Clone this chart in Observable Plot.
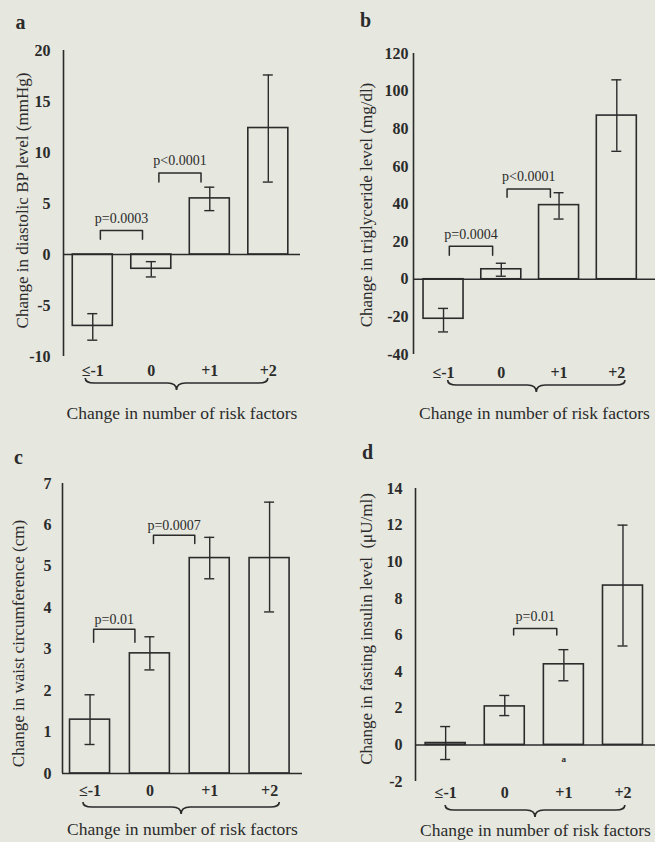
<!DOCTYPE html>
<html><head><meta charset="utf-8">
<script src="https://cdn.jsdelivr.net/npm/d3@7"></script>
<script src="https://cdn.jsdelivr.net/npm/@observablehq/plot@0.6"></script>
<style>
html,body{margin:0;padding:0;background:#e6e7df;}
#fig{position:relative;width:655px;height:842px;background:#e6e7df;overflow:hidden}
#fig svg{position:absolute;overflow:visible}
</style></head><body><div id="fig"></div>
<script>
// ---- data ----
const categories = ["≤-1", "0", "+1", "+2"];
const xTitle = "Change in number of risk factors";

// a: diastolic BP
const bpMean = [-7.0, -1.4, 5.5, 12.4];
const bpLow  = [-8.4, -2.2, 4.3, 7.1];
const bpHigh = [-5.8, -0.7, 6.6, 17.6];
const bpTicks = [-10, -5, 0, 5, 10, 15, 20];
const bpPairs = [[0, 1], [1, 2]];
const bpPTop = [2.35, 8.0];
const bpPLeg = [1.5, 7.1];
const bpPText = ["p=0.0003", "p<0.0001"];

// b: triglyceride
const tgMean = [-21, 5.3, 39.4, 87];
const tgLow  = [-28, 1.6, 32, 68];
const tgHigh = [-15.5, 8.5, 46, 106];
const tgTicks = [-40, -20, 0, 20, 40, 60, 80, 100, 120];
const tgPairs = [[0, 1], [1, 2]];
const tgPTop = [17.5, 48];
const tgPLeg = [12.8, 43.6];
const tgPText = ["p=0.0004", "p<0.0001"];

// c: waist circumference
const wcMean = [1.3, 2.9, 5.2, 5.2];
const wcLow  = [0.7, 2.5, 4.7, 3.9];
const wcHigh = [1.9, 3.3, 5.7, 6.55];
const wcTicks = [0, 1, 2, 3, 4, 5, 6, 7];
const wcPairs = [[0, 1], [1, 2]];
const wcPTop = [3.48, 5.75];
const wcPLeg = [3.17, 5.55];
const wcPText = ["p=0.01", "p=0.0007"];

// d: fasting insulin
const inMean = [0.1, 2.1, 4.4, 8.7];
const inLow  = [-0.8, 1.6, 3.5, 5.4];
const inHigh = [1.0, 2.7, 5.2, 12.0];
const inTicks = [-2, 0, 2, 4, 6, 8, 10, 12, 14];
const inPairs = [[1, 2]];
const inPTop = [6.35];
const inPLeg = [6.0];
const inPText = ["p=0.01"];
const inNote = [{i: 2, y: -0.8, text: "a"}];

// ---- drawing ----
const ink = "#2b2b2b";
const fig = document.getElementById("fig");

function braceMark(from, to, top) {
  return (index, scales, values, dims) => {
    const x0 = scales.x(from), x1 = scales.x(to);
    const y0 = dims.height - dims.marginBottom + top;
    const h1 = 5, h2 = 7, r = 9;
    const xm = (x0 + x1) / 2, y1 = y0 + h1, y2 = y1 + h2;
    const d = `M${x0},${y0} Q${x0},${y1} ${x0 + r},${y1} L${xm - r},${y1} Q${xm},${y1} ${xm},${y2} Q${xm},${y1} ${xm + r},${y1} L${x1 - r},${y1} Q${x1},${y1} ${x1},${y0}`;
    const p = document.createElementNS("http://www.w3.org/2000/svg", "path");
    p.setAttribute("d", d);
    p.setAttribute("fill", "none");
    p.setAttribute("stroke", ink);
    p.setAttribute("stroke-width", "1.7");
    return p;
  };
}

function panel(cfg) {
  const rows = categories.map((c, i) => ({i, c, mean: cfg.mean[i], low: cfg.low[i], high: cfg.high[i]}));
  const bpts = [];
  cfg.pairs.forEach(([a, b], k) => {
    const xa = a + cfg.inL, xb = b - cfg.inR;
    bpts.push({k, x: xa, y: cfg.pLeg[k]}, {k, x: xa, y: cfg.pTop[k]}, {k, x: xb, y: cfg.pTop[k]}, {k, x: xb, y: cfg.pLeg[k]});
  });
  const plabels = cfg.pairs.map(([a, b], k) => ({x: (a + cfg.inL + b - cfg.inR) / 2, y: cfg.pTop[k], text: cfg.pText[k]}));
  const marks = [
    Plot.ruleY([0], {stroke: ink, strokeWidth: 1.5}),
    Plot.ruleX([cfg.xDomain[0]], {stroke: ink, strokeWidth: 1.6}),
    Plot.rect(rows, {x1: "i", x2: "i", y1: 0, y2: "mean", insetLeft: -20, insetRight: -20, fill: "none", stroke: ink, strokeWidth: 1.6}),
    Plot.ruleX(rows, {x: "i", y1: "low", y2: "high", stroke: ink, strokeWidth: 1.4}),
    Plot.ruleY(rows, {y: "low", x1: "i", x2: "i", insetLeft: -5, insetRight: -5, stroke: ink, strokeWidth: 1.4}),
    Plot.ruleY(rows, {y: "high", x1: "i", x2: "i", insetLeft: -5, insetRight: -5, stroke: ink, strokeWidth: 1.4}),
    Plot.line(bpts, {x: "x", y: "y", z: "k", stroke: ink, strokeWidth: 1.5}),
    Plot.text(plabels, {x: "x", y: "y", text: "text", dy: cfg.pDy, fontSize: 14, fontWeight: "normal", fill: ink}),
    Plot.axisY(cfg.ticks, {tickSize: 0, tickPadding: cfg.yPad, tickFormat: d => String(d), fontSize: 16, fontWeight: "bold", fill: ink, label: null}),
    Plot.axisX([0, 1, 2, 3], {tickSize: 0, tickPadding: cfg.xPad, tickFormat: i => categories[i], fontSize: 16, fontWeight: "bold", fill: ink, label: null}),
    Plot.text([cfg.yLabel], {text: d => d, frameAnchor: "left", rotate: -90, dx: cfg.yLabDx, dy: cfg.yLabDy, fontSize: 17, fontWeight: "normal", fill: ink, textAnchor: "middle", lineAnchor: "middle"}),
    Plot.text([xTitle], {text: d => d, frameAnchor: "bottom", dy: cfg.titleDy, fontSize: 17.5, fontWeight: "normal", fill: ink, textAnchor: "middle", lineAnchor: "middle"}),
    Plot.text([cfg.letter], {text: d => d, frameAnchor: "top-left", dx: cfg.letDx, dy: cfg.letDy, fontSize: 20, fontWeight: "bold", fill: ink, textAnchor: "middle", lineAnchor: "middle"}),
    braceMark(cfg.braceFrom, cfg.braceTo, cfg.braceTop)
  ];
  if (cfg.notes) marks.push(Plot.text(cfg.notes, {x: "i", y: "y", text: "text", fontSize: 9, fontWeight: "bold", fill: ink}));
  const svg = Plot.plot({
    width: cfg.width, height: cfg.height,
    marginLeft: cfg.m[0], marginRight: cfg.m[1], marginTop: cfg.m[2], marginBottom: cfg.m[3],
    x: {type: "linear", domain: cfg.xDomain},
    y: {domain: cfg.yDomain},
    style: {fontFamily: '"Liberation Serif", "Times New Roman", serif', fontSize: "16px", color: ink, background: "transparent", overflow: "visible"},
    marks
  });
  svg.style.left = cfg.left + "px";
  svg.style.top = cfg.top + "px";
  fig.appendChild(svg);
}

panel({left: 0, top: 0, width: 327, height: 420, m: [63, 27, 50, 64],
  xDomain: [-0.5, 3.55], yDomain: [-10, 20], ticks: bpTicks,
  mean: bpMean, low: bpLow, high: bpHigh,
  pairs: bpPairs, pTop: bpPTop, pLeg: bpPLeg, pText: bpPText, inL: 0.13, inR: 0.15, pDy: -12,
  yPad: 13, xPad: 8, yLabel: "Change in diastolic BP level (mmHg)", yLabDx: -41, yLabDy: -3,
  titleDy: 57, letter: "a", letDx: -43, letDy: -28, braceFrom: -0.12, braceTo: 3.0, braceTop: 22});

panel({left: 327, top: 0, width: 328, height: 420, m: [86, 0, 53, 66],
  xDomain: [-0.52, 3.67], yDomain: [-40, 120], ticks: tgTicks,
  mean: tgMean, low: tgLow, high: tgHigh,
  pairs: tgPairs, pTop: tgPTop, pLeg: tgPLeg, pText: tgPText, inL: 0.1, inR: 0.15, pDy: -12,
  yPad: 5, xPad: 12, yLabel: "Change in triglyceride level (mg/dl)", yLabDx: -47, yLabDy: 1,
  titleDy: 59, letter: "b", letDx: -48, letDy: -33, braceFrom: 0.08, braceTo: 3.15, braceTop: 26});

panel({left: 0, top: 420, width: 327, height: 422, m: [62, 25, 63, 69],
  xDomain: [-0.46, 3.55], yDomain: [0, 7], ticks: wcTicks,
  mean: wcMean, low: wcLow, high: wcHigh,
  pairs: wcPairs, pTop: wcPTop, pLeg: wcPLeg, pText: wcPText, inL: 0.06, inR: 0.25, pDy: -10,
  yPad: 11, xPad: 11, yLabel: "Change in waist circumference (cm)", yLabDx: -44, yLabDy: 15,
  titleDy: 56, letter: "c", letDx: -44, letDy: -26, braceFrom: -0.11, braceTo: 3.17, braceTop: 29});

panel({left: 327, top: 420, width: 328, height: 422, m: [88, 0, 68, 61],
  xDomain: [-0.51, 3.55], yDomain: [-2, 14], ticks: inTicks,
  mean: inMean, low: inLow, high: inHigh,
  pairs: inPairs, pTop: inPTop, pLeg: inPLeg, pText: inPText, inL: 0.15, inR: 0.12, pDy: -12,
  yPad: 13, xPad: 5, yLabel: "Change in fasting insulin level  (μU/ml)", yLabDx: -49, yLabDy: -6,
  titleDy: 49, letter: "d", letDx: -48, letDy: -36, braceFrom: 0.0, braceTo: 3.04, braceTop: 24, notes: inNote});
</script>
</body></html>
